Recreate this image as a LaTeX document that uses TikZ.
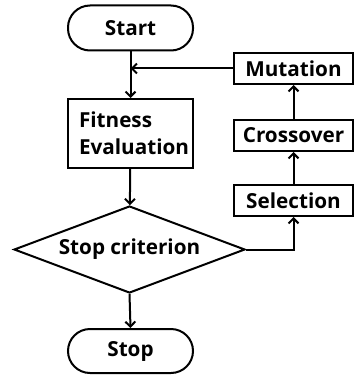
\documentclass[tikz,border=0pt]{standalone}
\usepackage{fontspec}
\setmainfont{Open Sans}
\usetikzlibrary{arrows.meta,shapes.geometric}
\begin{document}
\begin{tikzpicture}[x=1pt,y=-1pt,
  line width=2pt,
  txt/.style={font=\bfseries\fontsize{20.7}{27}\selectfont},
  box/.style={draw,rectangle,inner sep=0pt,txt},
  term/.style={draw,rounded corners=22pt,inner sep=0pt,txt},
  arr/.style={-{Straight Barb[length=5pt,width=10pt,line width=2pt]}}]
\useasboundingbox (0,0) rectangle (354,379);
\node[term,minimum width=125pt,minimum height=45pt] (start) at (130.5,28) {Start};
\node[box,minimum width=125pt,minimum height=69pt,align=left,text width=103pt] (fit) at (130.5,133.5) {Fitness\\Evaluation};
\node[draw,diamond,aspect=2.65,minimum width=231pt,minimum height=87pt,inner sep=0pt] (crit) at (129.5,249.5) {};
\node[txt] at (crit.center) {Stop criterion};
\node[term,minimum width=125pt,minimum height=44pt] (stop) at (130.5,351) {Stop};
\node[box,minimum width=119pt,minimum height=31pt] (mut) at (293.5,68.5) {Mutation};
\node[box,minimum width=119pt,minimum height=31pt] (cro) at (293.5,135.5) {Crossover};
\node[box,minimum width=119pt,minimum height=31pt] (sel) at (293.5,200.5) {Selection};
\coordinate (j) at (fit.north |- mut.west);
\draw[arr] (start) -- (fit);
\draw[arr] (mut.west) -- (j);
\draw[arr] (fit) -- (crit);
\draw[arr] (crit.south) -- (stop.north);
\draw[arr] (crit.east) -| (sel.south);
\draw[arr] (sel) -- (cro);
\draw[arr] (cro) -- (mut);
\end{tikzpicture}
\end{document}
